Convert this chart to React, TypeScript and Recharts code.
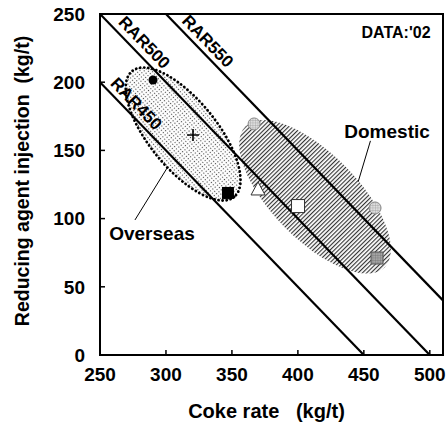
import { ComposedChart, XAxis, YAxis, Line, Scatter, ReferenceArea } from "recharts";

const xTicks = [250, 300, 350, 400, 450, 500];
const yTicks = [0, 50, 100, 150, 200, 250];

// iso-RAR lines: coke rate + injection = RAR
const rar450 = [{ x: 250, y: 200 }, { x: 450, y: 0 }];
const rar500 = [{ x: 250, y: 250 }, { x: 500, y: 0 }];
const rar550 = [{ x: 300, y: 250 }, { x: 510, y: 40 }];

const rarLabels = [
  { x: 283.5, y: 229, text: "RAR500" },
  { x: 331.5, y: 230, text: "RAR550" },
  { x: 277.4, y: 184.1, text: "RAR450" },
];

const groupLabels = [
  { x: 467.6, y: 163.5, text: "Domestic" },
  { x: 289.4, y: 89.4, text: "Overseas" },
];
const dataLabel = [{ x: 474.4, y: 236.8, text: "DATA:'02" }];

const domesticLeader = [{ x: 455, y: 157 }, { x: 445.7, y: 127 }];
const overseasLeader = [{ x: 276.5, y: 99 }, { x: 300.8, y: 137 }];

// centres of the two scatter regions
const overseasArea = [{ x: 313, y: 162 }];
const domesticArea = [{ x: 413, y: 116 }];

const filledCircle = [{ x: 290.2, y: 201.6 }];
const plusMark = [{ x: 320.5, y: 161.3 }];
const filledSquare = [{ x: 347, y: 118.8 }];
const openTriangle = [{ x: 369.8, y: 121 }];
const openSquare = [{ x: 400.1, y: 109.2 }];
const hatchedCircle = [{ x: 366.8, y: 169.4 }, { x: 458.5, y: 107.8 }];
const graySquare = [{ x: 460, y: 71.1 }];

const W = 447;
const H = 426;
const margin = { top: 14, right: 4, bottom: 0, left: 0 };
const yAxisWidth = 100;
const xAxisHeight = 71;
const xDomain = [250, 510];
const yDomain = [0, 250];
const plotW = W - margin.left - margin.right - yAxisWidth;
const plotH = H - margin.top - margin.bottom - xAxisHeight;
// on-screen slope of the RAR lines
const rarAngle =
  (Math.atan((plotH / (yDomain[1] - yDomain[0])) / (plotW / (xDomain[1] - xDomain[0]))) * 180) / Math.PI;

const font = "'Liberation Sans', Arial, Helvetica, sans-serif";

// patterns are used inside rotated ellipses, so they turn with them
const Patterns = () => (
  <defs>
    <pattern id="stipple" width="3" height="3" patternUnits="userSpaceOnUse">
      <rect width="3" height="3" fill="#fff" />
      <rect x="1" y="1" width="1.1" height="1.1" fill="#444" />
    </pattern>
    <pattern id="hatch" width="3" height="3" patternUnits="userSpaceOnUse">
      <rect width="3" height="3" fill="#fff" />
      <line x1="0.6" y1="0" x2="0.6" y2="3" stroke="#222" strokeWidth="1.05" />
    </pattern>
    <pattern id="grid" width="2.5" height="2.5" patternUnits="userSpaceOnUse">
      <rect width="2.5" height="2.5" fill="#dedede" />
      <path d="M0 0H2.5M0 0V2.5" stroke="#8a8a8a" strokeWidth="0.6" />
    </pattern>
    <pattern id="darkgrid" width="2.5" height="2.5" patternUnits="userSpaceOnUse">
      <rect width="2.5" height="2.5" fill="#a5a5a5" />
      <path d="M0 0H2.5M0 0V2.5" stroke="#666" strokeWidth="0.6" />
    </pattern>
  </defs>
);

const OverseasShape = (p: any) => (
  <g>
    <Patterns />
    <ellipse
      cx={p.cx}
      cy={p.cy}
      rx={81}
      ry={34}
      transform={`rotate(51, ${p.cx}, ${p.cy})`}
      fill="url(#stipple)"
      stroke="#000"
      strokeWidth={2.8}
      strokeDasharray="0.1 4"
      strokeLinecap="round"
    />
  </g>
);

const DomesticShape = (p: any) => (
  <ellipse
    cx={p.cx}
    cy={p.cy}
    rx={99}
    ry={43}
    transform={`rotate(45.5, ${p.cx}, ${p.cy})`}
    fill="url(#hatch)"
  />
);

const RarText = (p: any) => (
  <text
    x={p.cx}
    y={p.cy}
    textAnchor="middle"
    dominantBaseline="central"
    transform={`rotate(${rarAngle}, ${p.cx}, ${p.cy})`}
    fontFamily={font}
    fontWeight="bold"
    fontSize={17}
    fill="#000"
  >
    {p.payload.text}
  </text>
);

const makeText = (size: number) => (p: any) => (
  <text
    x={p.cx}
    y={p.cy}
    textAnchor="middle"
    dominantBaseline="central"
    fontFamily={font}
    fontWeight="bold"
    fontSize={size}
    fill="#000"
  >
    {p.payload.text}
  </text>
);

const FilledCircle = (p: any) => <circle cx={p.cx} cy={p.cy} r={4.5} fill="#000" />;
const Plus = (p: any) => (
  <path d={`M${p.cx - 6} ${p.cy}H${p.cx + 6}M${p.cx} ${p.cy - 6}V${p.cy + 6}`} stroke="#000" strokeWidth={1.6} />
);
const FilledSquare = (p: any) => <rect x={p.cx - 6} y={p.cy - 6} width={12} height={12} fill="#000" />;
const OpenTriangle = (p: any) => (
  <path
    d={`M${p.cx} ${p.cy - 8}L${p.cx + 7} ${p.cy + 5}L${p.cx - 7} ${p.cy + 5}Z`}
    fill="#fff"
    stroke="#333"
    strokeWidth={1}
  />
);
const OpenSquare = (p: any) => (
  <rect x={p.cx - 6.5} y={p.cy - 6.5} width={13} height={13} fill="#fff" stroke="#333" strokeWidth={1} />
);
const HatchedCircle = (p: any) => (
  <circle cx={p.cx} cy={p.cy} r={6} fill="url(#grid)" stroke="#888" strokeWidth={1} />
);
const GraySquare = (p: any) => (
  <rect x={p.cx - 6} y={p.cy - 6} width={12} height={12} fill="url(#darkgrid)" stroke="#555" strokeWidth={1} />
);

const tickStyle = { fontFamily: font, fontWeight: "bold", fontSize: 19, fill: "#000" };

const XTitle = () => (
  <text
    x={margin.left + yAxisWidth + plotW / 2 - 5}
    y={H - 8}
    textAnchor="middle"
    fontFamily={font}
    fontWeight="bold"
    fontSize={20}
    fill="#000"
  >
    {"Coke rate\u00A0\u00A0\u00A0(kg/t)"}
  </text>
);

const YTitle = () => {
  const cx = 22;
  const cy = margin.top + plotH / 2 - 3.5;
  return (
    <text
      x={cx}
      y={cy}
      textAnchor="middle"
      dominantBaseline="central"
      transform={`rotate(-90, ${cx}, ${cy})`}
      fontFamily={font}
      fontWeight="bold"
      fontSize={19.5}
      fill="#000"
    >
      {"Reducing agent injection\u00A0\u00A0(kg/t)"}
    </text>
  );
};

const lineProps = {
  dataKey: "y",
  stroke: "#000",
  strokeWidth: 2.2,
  dot: false,
  isAnimationActive: false,
  type: "linear" as const,
  zIndex: 400,
};

export default function App() {
  return (
    <div style={{ position: "absolute", left: 0, top: 0, background: "#fff" }}>
      <ComposedChart width={W} height={H} margin={margin}>
        <XAxis
          type="number"
          dataKey="x"
          domain={xDomain}
          ticks={xTicks}
          allowDataOverflow
          height={xAxisHeight}
          tickSize={-5}
          tickMargin={18}
          tick={tickStyle}
          axisLine={{ stroke: "#000", strokeWidth: 2 }}
          tickLine={{ stroke: "#000", strokeWidth: 1.5 }}
          label={<XTitle />}
        />
        <YAxis
          type="number"
          dataKey="y"
          domain={yDomain}
          ticks={yTicks}
          allowDataOverflow
          width={yAxisWidth}
          tickSize={-5}
          tickMargin={20}
          tick={tickStyle}
          axisLine={{ stroke: "#000", strokeWidth: 2 }}
          tickLine={{ stroke: "#000", strokeWidth: 1.5 }}
          label={<YTitle />}
        />
        <Scatter data={overseasArea} dataKey="y" shape={OverseasShape} isAnimationActive={false} zIndex={50} />
        <Scatter data={domesticArea} dataKey="y" shape={DomesticShape} isAnimationActive={false} zIndex={50} />
        <Line data={rar450} {...lineProps} />
        <Line data={rar500} {...lineProps} />
        <Line data={rar550} {...lineProps} />
        <Line data={domesticLeader} {...lineProps} strokeWidth={1} />
        <Line data={overseasLeader} {...lineProps} strokeWidth={1} />
        <Scatter data={filledCircle} dataKey="y" shape={FilledCircle} isAnimationActive={false} zIndex={600} />
        <Scatter data={plusMark} dataKey="y" shape={Plus} isAnimationActive={false} zIndex={600} />
        <Scatter data={filledSquare} dataKey="y" shape={FilledSquare} isAnimationActive={false} zIndex={600} />
        <Scatter data={openTriangle} dataKey="y" shape={OpenTriangle} isAnimationActive={false} zIndex={600} />
        <Scatter data={openSquare} dataKey="y" shape={OpenSquare} isAnimationActive={false} zIndex={600} />
        <Scatter data={hatchedCircle} dataKey="y" shape={HatchedCircle} isAnimationActive={false} zIndex={600} />
        <Scatter data={graySquare} dataKey="y" shape={GraySquare} isAnimationActive={false} zIndex={600} />
        <Scatter data={rarLabels} dataKey="y" shape={RarText} isAnimationActive={false} zIndex={600} />
        <Scatter data={groupLabels} dataKey="y" shape={makeText(19)} isAnimationActive={false} zIndex={600} />
        <Scatter data={dataLabel} dataKey="y" shape={makeText(16)} isAnimationActive={false} zIndex={600} />
        <ReferenceArea
          x1={250}
          x2={510}
          y1={0}
          y2={250}
          fill="none"
          stroke="#000"
          strokeWidth={2}
          ifOverflow="visible"
          zIndex={700}
        />
      </ComposedChart>
    </div>
  );
}
